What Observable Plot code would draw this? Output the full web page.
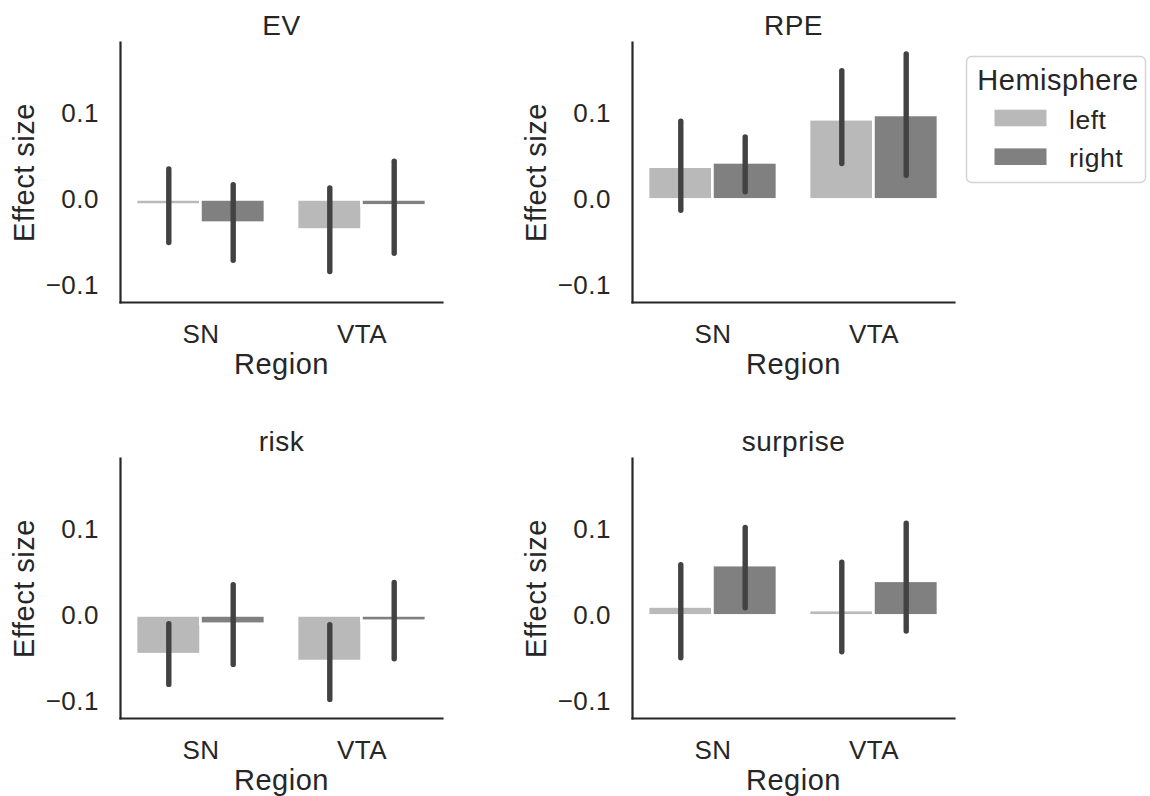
<!DOCTYPE html>
<html>
<head>
<meta charset="utf-8">
<script src="https://cdn.jsdelivr.net/npm/d3@7"></script>
<script src="https://cdn.jsdelivr.net/npm/@observablehq/plot@0.6"></script>
<style>
  html, body { margin: 0; padding: 0; background: #ffffff; }
  #chart { position: relative; width: 1150px; height: 796px; background: #ffffff; overflow: hidden;
           font-family: 'Liberation Sans', Arial, sans-serif; color: #262626; letter-spacing: 0.5px; }
  #chart > .panel { position: absolute; }
  #chart svg { overflow: visible; }
</style>
</head>
<body>
<div id="chart"></div>
<script>
// ---------- data ----------
const regions = ["SN", "VTA"];
const hemispheres = ["left", "right"];
const hemisphereColors = ["#b9b9b9", "#808080"];
const measures = ["EV", "RPE", "risk", "surprise"];
const yTicks = [-0.1, 0.0, 0.1];
const yDomain = [-0.119, 0.1826];

// order of values: SN-left, SN-right, VTA-left, VTA-right
const evMean = [-0.006, -0.027, -0.035, -0.007];
const evLow = [-0.050, -0.0705, -0.0836, -0.0624];
const evHigh = [0.0354, 0.0172, 0.0133, 0.0443];

const rpeMean = [0.038, 0.043, 0.093, 0.098];
const rpeLow = [-0.0125, 0.0088, 0.0416, 0.0281];
const rpeHigh = [0.0907, 0.0725, 0.1494, 0.1688];

const riskMean = [-0.045, -0.0097, -0.053, -0.0062];
const riskLow = [-0.080, -0.0568, -0.0974, -0.0502];
const riskHigh = [-0.0097, 0.0355, -0.0109, 0.0383];

const surpriseMean = [0.0104, 0.0584, 0.0062, 0.0402];
const surpriseLow = [-0.0491, 0.0089, -0.0421, -0.0181];
const surpriseHigh = [0.0587, 0.1021, 0.0618, 0.1071];

// ---------- layout ----------
const fontFamily = "'Liberation Sans', Arial, sans-serif";
const ink = "#262626";
const errColor = "#424242";
const W = 480, H = 396, mL = 120, mR = 38, mT = 42, mB = 94;
const plotW = W - mL - mR;
const bandW = plotW / regions.length * 0.8;  // seaborn width 0.8

const panelDefs = [
  { title: measures[0], mean: evMean, low: evLow, high: evHigh, left: 0, top: 0 },
  { title: measures[1], mean: rpeMean, low: rpeLow, high: rpeHigh, left: 512, top: 0 },
  { title: measures[2], mean: riskMean, low: riskLow, high: riskHigh, left: 0, top: 416 },
  { title: measures[3], mean: surpriseMean, low: surpriseLow, high: surpriseHigh, left: 512, top: 416 }
];

function buildRows(mean, low, high) {
  const rows = [];
  regions.forEach((r, i) => hemispheres.forEach((h, j) => {
    const k = i * hemispheres.length + j;
    rows.push({ region: r, hemi: h, mean: mean[k], low: low[k], high: high[k] });
  }));
  return rows;
}

const chart = document.getElementById("chart");

for (const p of panelDefs) {
  const rows = buildRows(p.mean, p.low, p.high);
  const leftRows = rows.filter(d => d.hemi === hemispheres[0]);
  const rightRows = rows.filter(d => d.hemi === hemispheres[1]);
  const svg = Plot.plot({
    width: W, height: H,
    marginLeft: mL, marginRight: mR, marginTop: mT, marginBottom: mB,
    style: { fontFamily, fontSize: "26px", color: ink, background: "transparent", overflow: "visible" },
    x: { domain: regions, paddingInner: 0.2, paddingOuter: 0.1, tickSize: 0, tickPadding: 22, label: null },
    y: { domain: yDomain, ticks: yTicks, tickFormat: d3.format(".1f"), tickSize: 0, tickPadding: 21.5, label: null },
    marks: [
      Plot.barY(leftRows, { x: "region", y1: 0, y2: "mean", fill: hemisphereColors[0], stroke: "white", strokeWidth: 2.7, insetRight: bandW / 2 }),
      Plot.barY(rightRows, { x: "region", y1: 0, y2: "mean", fill: hemisphereColors[1], stroke: "white", strokeWidth: 2.7, insetLeft: bandW / 2 }),
      Plot.ruleX(leftRows, { x: "region", y1: "low", y2: "high", stroke: errColor, strokeWidth: 5.4, strokeLinecap: "round", dx: -bandW / 4 }),
      Plot.ruleX(rightRows, { x: "region", y1: "low", y2: "high", stroke: errColor, strokeWidth: 5.4, strokeLinecap: "round", dx: bandW / 4 }),
      Plot.frame({ anchor: "left", stroke: ink, strokeWidth: 2.2 }),
      Plot.frame({ anchor: "bottom", stroke: ink, strokeWidth: 2.2 }),
      Plot.text([p.title], { text: d => d, frameAnchor: "top", lineAnchor: "top", dy: -27, fontSize: 28, fill: ink }),
      Plot.text(["Region"], { text: d => d, frameAnchor: "bottom", lineAnchor: "top", dy: 50.5, fontSize: 29, fill: ink }),
      Plot.text(["Effect size"], { text: d => d, frameAnchor: "left", textAnchor: "middle", lineAnchor: "middle", rotate: -90, dx: -96, fontSize: 29, fill: ink })
    ]
  });
  const wrap = document.createElement("div");
  wrap.className = "panel";
  wrap.style.left = p.left + "px";
  wrap.style.top = p.top + "px";
  wrap.appendChild(svg);
  chart.appendChild(wrap);
}

// ---------- legend ----------
const legend = d3.select(chart).append("svg")
  .attr("width", 1150).attr("height", 796)
  .style("position", "absolute").style("left", "0px").style("top", "0px")
  .style("pointer-events", "none");
legend.append("rect")
  .attr("x", 966.5).attr("y", 56.5).attr("width", 179).attr("height", 126)
  .attr("rx", 5).attr("fill", "white").attr("stroke", "#d4d4d4").attr("stroke-width", 1.5);
legend.append("text")
  .attr("x", 1058).attr("y", 90).attr("text-anchor", "middle")
  .attr("font-family", fontFamily).attr("font-size", 29).attr("fill", ink)
  .text("Hemisphere");
hemispheres.forEach((h, i) => {
  const cy = 118 + i * 38.7;
  legend.append("rect")
    .attr("x", 994.5).attr("y", cy - 8.3).attr("width", 52).attr("height", 16.6)
    .attr("fill", hemisphereColors[i]);
  legend.append("text")
    .attr("x", 1069).attr("y", cy + 10.5)
    .attr("font-family", fontFamily).attr("font-size", 26.5).attr("fill", ink)
    .text(h);
});
</script>
</body>
</html>
